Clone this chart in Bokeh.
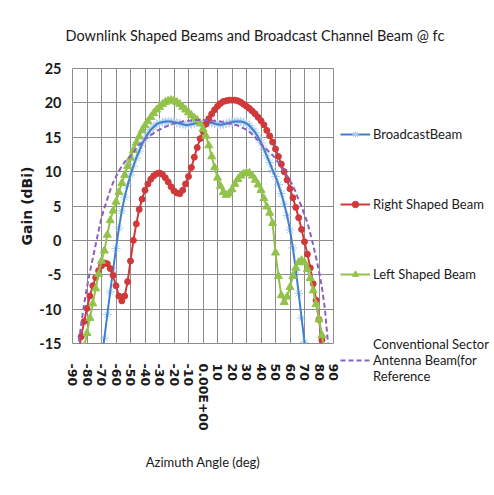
from bokeh.plotting import figure
from bokeh.models import FixedTicker, Legend, LegendItem, Range1d
from bokeh.embed import file_html
from bokeh.resources import INLINE

angles = list(range(-90, 91, 2))

broadcast = [
    -45, -41, -37.5, -34, -31, -28, -25.5, -23.5, -21.5, -19.5,
    -17.2, -14.2, -10.8, -7.5, -4.3, -1.2, 1.8, 4.3, 6.3, 8.0,
    9.5, 10.8, 12.0, 13.0, 14.0, 14.8, 15.5, 16.1, 16.5, 16.9,
    17.1, 17.2, 17.3, 17.3, 17.3, 17.2, 17.1, 17.0, 16.9, 16.8,
    16.8, 16.9, 17.0, 17.1, 17.1, 17.0, 17.0, 17.1, 17.1, 17.0,
    16.9, 16.8, 16.9, 17.0, 17.1, 17.2, 17.3, 17.3, 17.3, 17.2,
    17.0, 16.7, 16.2, 15.7, 15.0, 14.2, 13.3, 12.3, 11.3, 10.2,
    9.3, 8.1, 6.8, 5.3, 3.6, 1.5, -1.1, -4.3, -7.7, -11.3,
    -14.8, -18.5, -21.5, -24, -26.5, -29, -31.5, -34.5, -37.5, -41,
    -45,
]

right_beam = [
    -22, -19, -16.5, -14, -11.8, -9.9, -8.1, -6.6, -5.4, -4.4,
    -3.7, -3.3, -3.4, -4.1, -5.1, -6.6, -8.1, -8.8, -8.1, -6.0,
    -3.0, 0.0, 2.4, 4.5, 6.0, 7.3, 8.2, 8.9, 9.4, 9.7,
    9.8, 9.6, 9.1, 8.5, 7.8, 7.2, 6.9, 6.8, 7.3, 8.2,
    9.3, 10.6, 12.1, 13.5, 14.8, 15.9, 16.9, 17.7, 18.4, 19.0,
    19.5, 19.9, 20.2, 20.3, 20.4, 20.4, 20.4, 20.3, 20.1, 19.8,
    19.5, 19.2, 18.8, 18.4, 17.9, 17.4, 16.8, 16.0, 15.2, 14.3,
    13.3, 12.2, 11.1, 10.0, 8.8, 7.5, 6.2, 4.8, 3.3, 1.6,
    -0.2, -2.0, -4.0, -6.3, -8.7, -11.5, -14.5, -17.5, -20, -22,
    -24,
]

left_beam = [
    -24, -22, -20, -17.5, -15.5, -13.5, -11.3, -9.2, -7.0, -4.9,
    -3.0, -1.5, 0.8, 2.9, 4.3, 5.6, 7.0, 8.3, 9.5, 10.8,
    12.0, 13.1, 14.2, 15.1, 16.0, 16.7, 17.3, 17.9, 18.5, 19.0,
    19.4, 19.8, 20.1, 20.3, 20.4, 20.3, 20.1, 19.8, 19.4, 19.0,
    18.6, 18.2, 17.8, 17.5, 17.0, 16.2, 15.2, 13.8, 12.2, 10.6,
    9.1, 7.9, 7.0, 6.6, 6.8, 7.4, 8.2, 8.9, 9.4, 9.7,
    9.8, 9.8, 9.4, 8.8, 8.1, 7.3, 6.1, 4.9, 4.0, 2.5,
    -1.8, -5.2, -8.0, -9.0, -8.2, -6.8, -5.2, -4.0, -3.2, -2.9,
    -3.2, -4.2, -5.5, -7.3, -9.3, -11.5, -13.8, -16.5, -19.5, -22,
    -24,
]

conventional = [
    -24, -19.5, -15.5, -12.2, -9.3, -6.8, -4.6, -2.6, -0.6, 1.4,
    3.3, 4.7, 6.0, 7.3, 8.4, 9.3, 10.1, 10.8, 11.4, 11.8,
    12.2, 12.8, 13.4, 13.9, 14.3, 14.7, 15.0, 15.3, 15.6, 15.9,
    16.1, 16.3, 16.5, 16.7, 16.9, 17.0, 17.1, 17.2, 17.3, 17.4,
    17.4, 17.4, 17.5, 17.5, 17.5, 17.5, 17.5, 17.4, 17.4, 17.4,
    17.3, 17.3, 17.2, 17.1, 17.0, 16.9, 16.8, 16.7, 16.5, 16.3,
    16.1, 15.8, 15.4, 15.0, 14.5, 14.0, 13.6, 13.2, 12.8, 12.4,
    11.9, 11.3, 10.6, 10.0, 9.4, 8.7, 7.9, 7.0, 5.9, 4.9,
    3.7, 2.6, 1.0, -0.7, -2.5, -4.5, -6.8, -9.8, -14.5, -19.5,
    -24,
]

x_ticks = list(range(-90, 91, 10))
x_tick_labels = ["-90", "-80", "-70", "-60", "-50", "-40", "-30", "-20", "-10",
                 "0.00E+00", "10", "20", "30", "40", "50", "60", "70", "80", "90"]
y_ticks = list(range(-15, 26, 5))
y_tick_labels = ["-15", "-10", "-5", "0", "5", "10", "15", "20", "25"]

title_text = "Downlink Shaped Beams and Broadcast Channel Beam @ fc"
series_names = ["BroadcastBeam", "Right Shaped Beam", "Left Shaped Beam",
                "Conventional Sector\nAntenna Beam(for\nReference"]

BLUE = "#3f80cc"
BLUE_M = "#a8cbef"
RED = "#d0393a"
GREEN = "#92c24a"
PURPLE = "#8a5fbf"
GRID = "#8c8c8c"

p = figure(frame_width=261, frame_height=275,
           min_border_left=72, min_border_right=153,
           min_border_top=68, min_border_bottom=144,
           x_range=Range1d(-90, 90), y_range=Range1d(-15, 25),
           output_backend="svg", toolbar_location=None)
p.styles = {"outline": "1px solid #a0a0a0", "outline-offset": "-4px"}
p.outline_line_color = GRID
p.background_fill_color = "white"
p.border_fill_color = "white"

p.title.text = title_text
p.title.text_font = "Lato"
p.title.text_font_style = "normal"
p.title.text_font_size = "14.5px"
p.title.text_color = "#1a1a1a"
p.title.align = "left"
p.title.offset = -7
p.title.vertical_align = "middle"
p.title.standoff = 47

# axes
p.xaxis.ticker = FixedTicker(ticks=x_ticks)
p.yaxis.ticker = FixedTicker(ticks=y_ticks)
p.xaxis.major_label_overrides = dict(zip(x_ticks, x_tick_labels))
p.yaxis.major_label_overrides = dict(zip(y_ticks, y_tick_labels))
p.xaxis.major_label_orientation = "vertical"
for ax in (p.xaxis, p.yaxis):
    ax.axis_line_color = None
    ax.major_tick_line_color = None
    ax.minor_tick_line_color = None
    ax.major_label_text_color = "#1a1a1a"
    ax.major_label_text_font_style = "bold"
    ax.axis_label_text_color = "#1a1a1a"
p.xaxis.major_label_text_font = "DejaVu Sans"
p.xaxis.major_label_text_font_size = "12.5px"
p.xaxis.major_label_standoff = 14
p.yaxis.major_label_text_font = "Lato"
p.yaxis.major_label_text_font_size = "14.5px"
p.yaxis.major_label_standoff = 5

p.xaxis.axis_label = "Azimuth Angle (deg)"
p.xaxis.axis_label_text_font = "Lato"
p.xaxis.axis_label_text_font_style = "normal"
p.xaxis.axis_label_text_font_size = "13px"
p.xaxis.axis_label_standoff = 20

p.yaxis.axis_label = "Gain (dBi)"
p.yaxis.axis_label_text_font = "DejaVu Sans"
p.yaxis.axis_label_text_font_style = "bold"
p.yaxis.axis_label_text_font_size = "14px"
p.yaxis.axis_label_standoff = 1

p.xgrid.ticker = FixedTicker(ticks=x_ticks)
p.ygrid.ticker = FixedTicker(ticks=y_ticks)
p.grid.grid_line_color = GRID
p.grid.grid_line_width = 1

# series
b_mark = p.scatter(angles, broadcast, marker="asterisk", size=9, line_color=BLUE_M, line_width=1)
b_line = p.line(angles, broadcast, color=BLUE, line_width=2)
r_line = p.line(angles, right_beam, color=RED, line_width=2)
r_mark = p.scatter(angles, right_beam, marker="circle", size=6, fill_color=RED, line_color=RED)
g_line = p.line(angles, left_beam, color=GREEN, line_width=2)
g_mark = p.scatter(angles, left_beam, marker="triangle", size=8, fill_color=GREEN, line_color=GREEN)
c_line = p.line(angles, conventional, color=PURPLE, line_width=2, line_dash="5 3")

legend = Legend(items=[
    LegendItem(label=series_names[0], renderers=[b_line, b_mark]),
    LegendItem(label=series_names[1], renderers=[r_line, r_mark]),
    LegendItem(label=series_names[2], renderers=[g_line, g_mark]),
    LegendItem(label=series_names[3], renderers=[c_line]),
], location=(7, -41))
legend.padding = 0
legend.margin = 0
legend.border_line_color = None
legend.background_fill_alpha = 0
legend.glyph_width = 30
legend.glyph_height = 16
legend.label_height = 16
legend.spacing = 54
legend.label_standoff = 3
legend.label_text_font = "Lato"
legend.label_text_font_size = "13px"
legend.label_text_color = "#1a1a1a"
p.add_layout(legend, "right")

open("out.html", "w").write(file_html(p, INLINE))
